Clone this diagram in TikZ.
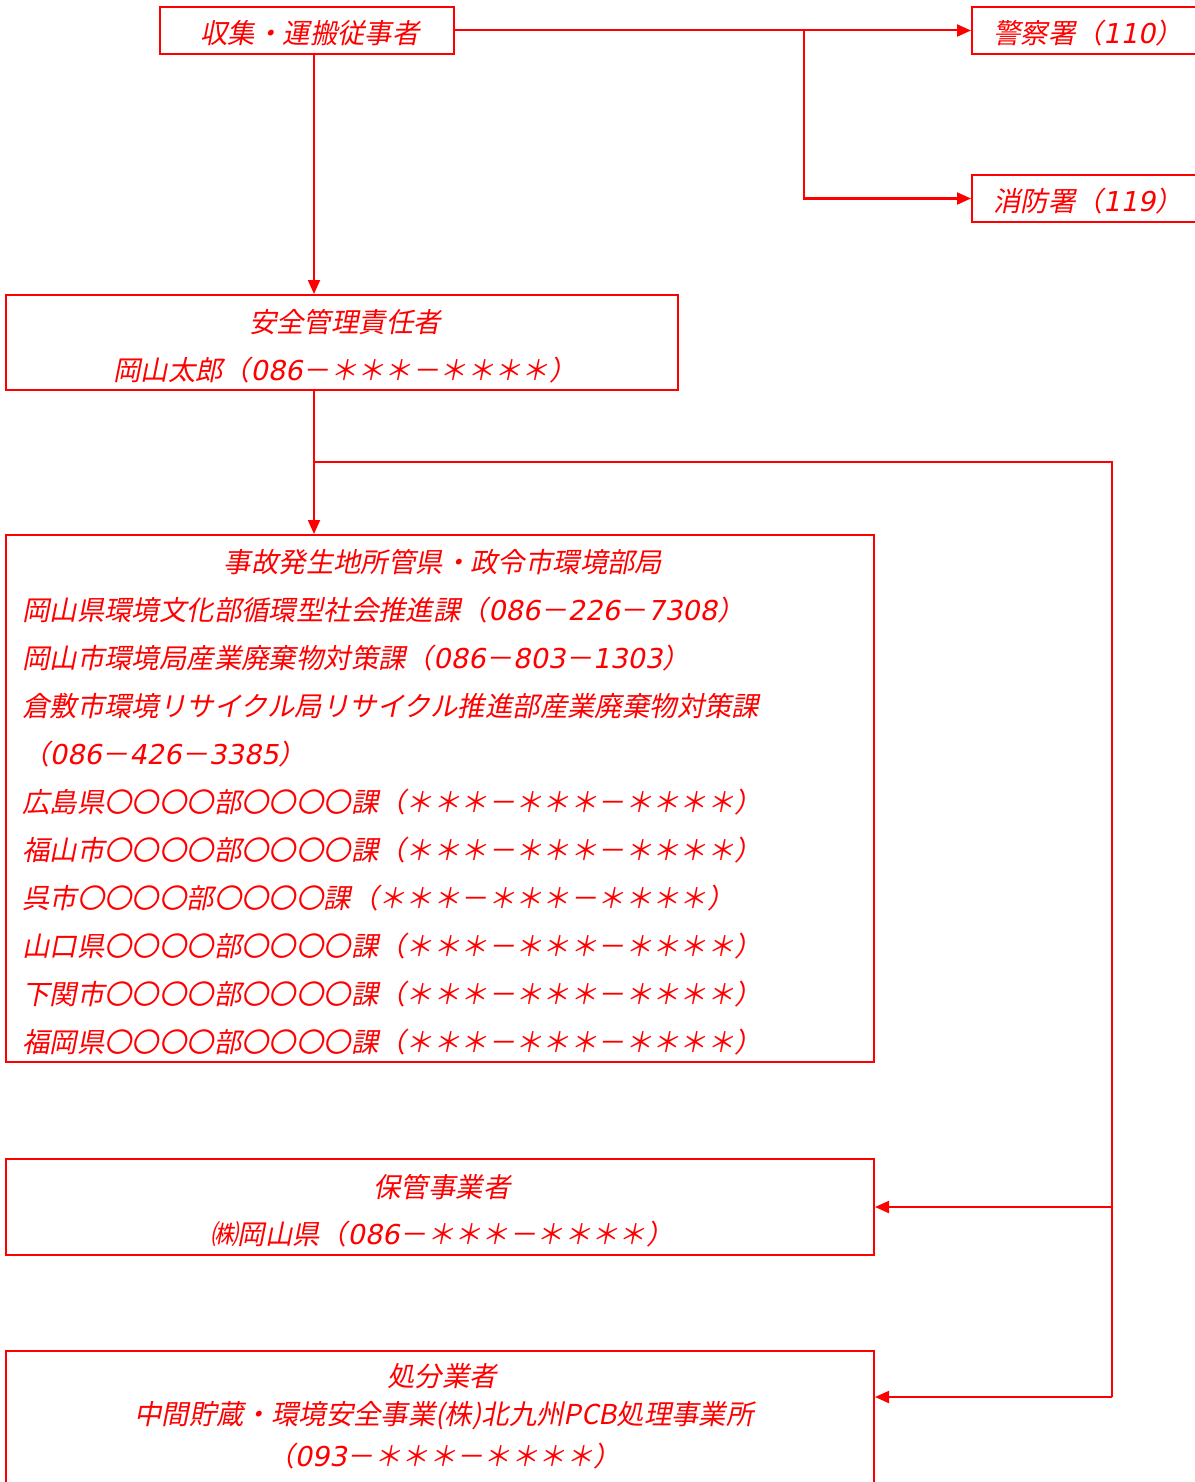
\documentclass[tikz,border=0pt]{standalone}
\usepackage{fontspec}
\usetikzlibrary{arrows.meta}
\newfontfamily\jpfont[FakeSlant=0.2]{Noto Sans CJK JP}
\newfontfamily\digfont[FakeSlant=0.2]{DejaVu Sans}
\newcommand\dg[1]{{\digfont #1}}
\definecolor{lnred}{RGB}{255,0,0}
\tikzset{
  box/.style={draw=lnred, line width=2pt, inner sep=0pt, fill=white},
  txt/.style={font=\jpfont\fontsize{27.4}{27.4}\selectfont, text=lnred, inner sep=0pt},
  arr/.style={draw=lnred, line width=2pt, -{Triangle[length=14pt,width=12pt]}},
  ln/.style={draw=lnred, line width=2pt}
}
\begin{document}
\begin{tikzpicture}[x=1pt,y=-1pt]
\useasboundingbox (0,0) rectangle (1194,1482);
% boxes
\node[box, minimum width=294pt, minimum height=47pt] (a) at (307,30.5) {};
\node[box, minimum width=228pt, minimum height=47pt] (p) at (1086,30.5) {};
\node[box, minimum width=228pt, minimum height=47pt] (f) at (1086,198.5) {};
\node[box, minimum width=672pt, minimum height=95pt] (b) at (342,342.5) {};
\node[box, minimum width=868pt, minimum height=527pt] (c) at (440,798.5) {};
\node[box, minimum width=868pt, minimum height=96pt] (d) at (440,1207) {};
\node[box, minimum width=868pt, minimum height=160pt] (e) at (440,1431) {};
% texts
\node[txt] (at) at (310,33) {収集・運搬従事者};
\node[txt] (pt) at (1088,33) {警察署（\dg{110}）};
\node[txt] (ft) at (1088,201) {消防署（\dg{119}）};
\node[txt] (b1) at (345,322) {安全管理責任者};
\node[txt] (b2) at (345,370) {岡山太郎（\dg{086}－＊＊＊－＊＊＊＊）};
\node[txt] (c0) at (443,562) {事故発生地所管県・政令市環境部局};
\node[txt, anchor=west] (c1) at (22,610) {岡山県環境文化部循環型社会推進課（\dg{086}－\dg{226}－\dg{7308}）};
\node[txt, anchor=west] (c2) at (22,658) {岡山市環境局産業廃棄物対策課（\dg{086}－\dg{803}－\dg{1303}）};
\node[txt, anchor=west] (c3) at (22,706) {倉敷市環境リサイクル局リサイクル推進部産業廃棄物対策課};
\node[txt, anchor=west] (c4) at (22,754) {（\dg{086}－\dg{426}－\dg{3385}）};
\node[txt, anchor=west] (c5) at (22,802) {広島県〇〇〇〇部〇〇〇〇課（＊＊＊－＊＊＊－＊＊＊＊）};
\node[txt, anchor=west] (c6) at (22,850) {福山市〇〇〇〇部〇〇〇〇課（＊＊＊－＊＊＊－＊＊＊＊）};
\node[txt, anchor=west] (c7) at (22,898) {呉市〇〇〇〇部〇〇〇〇課（＊＊＊－＊＊＊－＊＊＊＊）};
\node[txt, anchor=west] (c8) at (22,946) {山口県〇〇〇〇部〇〇〇〇課（＊＊＊－＊＊＊－＊＊＊＊）};
\node[txt, anchor=west] (c9) at (22,994) {下関市〇〇〇〇部〇〇〇〇課（＊＊＊－＊＊＊－＊＊＊＊）};
\node[txt, anchor=west] (c10) at (22,1042) {福岡県〇〇〇〇部〇〇〇〇課（＊＊＊－＊＊＊－＊＊＊＊）};
\node[txt] (d1) at (442,1187) {保管事業者};
\node[txt] (d2) at (442,1234) {㈱岡山県（\dg{086}－＊＊＊－＊＊＊＊）};
\node[txt] (e1) at (442,1376) {処分業者};
\node[txt] (e2) at (444,1416) {中間貯蔵・環境安全事業(株)北九州PCB処理事業所};
\node[txt] (e3) at (444,1456) {（\dg{093}－＊＊＊－＊＊＊＊）};
% connectors
\coordinate (vx) at (314,0);
\coordinate (br1) at (804,30.5);
\coordinate (br2) at (314,462);
\coordinate (rt) at (1112,462);
\coordinate (ea) at ([yshift=-47pt]e.north east);
\draw[arr] (a.south -| vx) -- (b.north -| vx);
\draw[arr] (a.east) -- (p.west);
\draw[arr] (br1) |- (f.west);
\draw[arr] (b.south -| vx) -- (c.north -| vx);
\draw[ln] (br2) -- (rt) -- (rt |- ea);
\draw[arr] (rt |- d.east) -- (d.east);
\draw[arr] (rt |- ea) -- (ea);
\end{tikzpicture}
\end{document}
